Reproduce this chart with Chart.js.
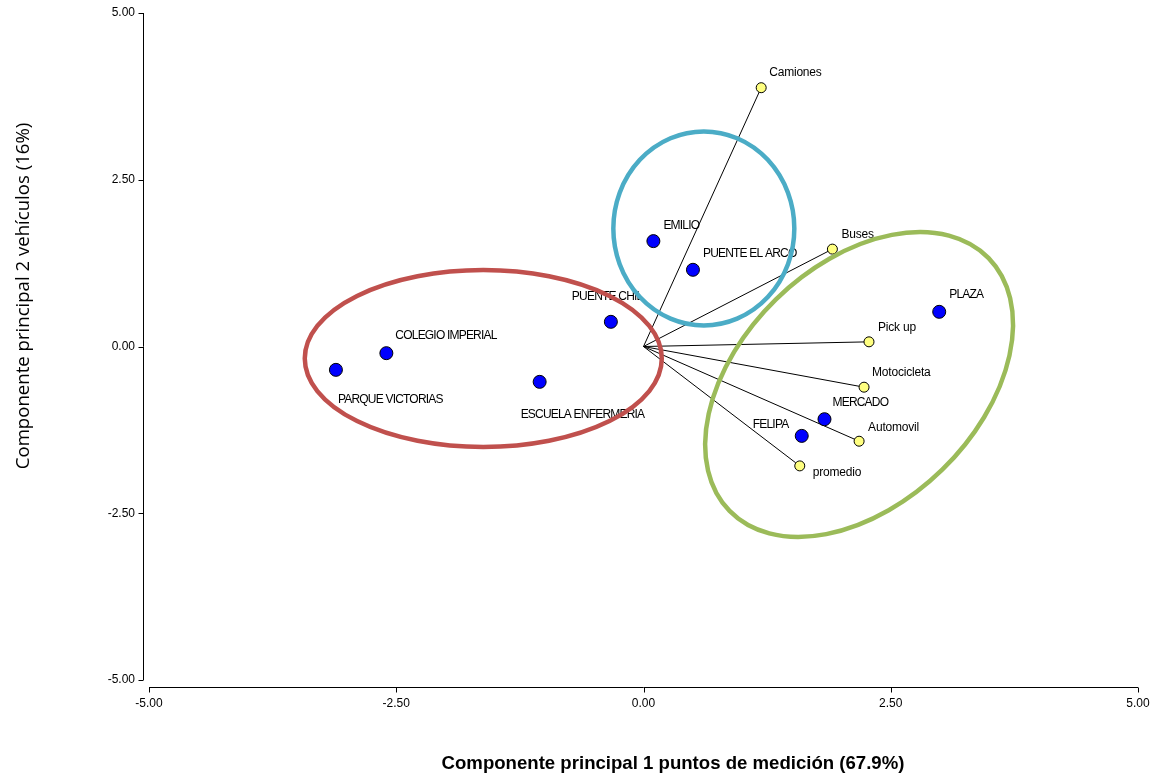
<!DOCTYPE html>
<html><head><meta charset="utf-8">
<script src="https://cdn.jsdelivr.net/npm/chart.js@4/dist/chart.umd.min.js"></script>
<style>html,body{margin:0;padding:0;background:#fff}#wrap{width:1156px;height:774px;position:relative}canvas{display:block}</style>
</head><body><div id="wrap"><canvas id="c" width="1156" height="774" style="width:1156px;height:774px"></canvas></div>
<script>
// ---- data ----
const siteNames = ["EMILIO","PUENTE EL ARCO","PUENTE CHIL","COLEGIO IMPERIAL","PARQUE VICTORIAS","ESCUELA ENFERMERIA","PLAZA","MERCADO","FELIPA"];
const siteX = [0.10, 0.50, -0.33, -2.60, -3.11, -1.05, 2.99, 1.83, 1.60];
const siteY = [1.58, 1.15, 0.37, -0.10, -0.35, -0.53, 0.52, -1.09, -1.34];
const varNames = ["Camiones","Buses","Pick up","Motocicleta","Automovil","promedio"];
const varX = [1.19, 1.91, 2.28, 2.23, 2.18, 1.58];
const varY = [3.88, 1.46, 0.07, -0.61, -1.42, -1.79];
const axisMin = -5, axisMax = 5, axisStep = 2.5;
const xTitle = "Componente principal 1 puntos de medición (67.9%)";
const yTitle = "Componente principal 2 vehículos (16%)";

// ---- layout / style (not data) ----
const siteLabelOffsets = [[10,-15],[10,-16],[-39,-25],[9,-17],[2,30],[-19,33],[10,-17],[8,-17],[-49,-11]];
const varLabelOffsets = [[8,-15],[9,-14],[9,-14],[8,-14],[9,-14],[13,7]];
const groupEllipses = [
  {cx:-1.62, cy:-0.18, rx:1.805, ry:1.327, rot:0, color:'#c0504d'},
  {cx:0.61, cy:1.77, rx:0.915, ry:1.455, rot:0, color:'#4bacc6'},
  {cx:2.18, cy:-0.57, rx:1.83, ry:1.785, rot:-44.3, color:'#9bbb59'}
];

const sitePts = siteX.map((x,i)=>({x, y: siteY[i]}));
const varPts = varX.map((x,i)=>({x, y: varY[i]}));
const vectorSets = varX.map((x,i)=>({
  type:'line', data:[{x:0,y:0},{x, y:varY[i]}], borderColor:'#000', borderWidth:1,
  pointRadius:0, pointHoverRadius:0, fill:false, tension:0, showLine:true
}));

const labelsPlugin = {
  id:'labels',
  afterDatasetsDraw(chart){
    const ctx = chart.ctx, xs = chart.scales.x, ys = chart.scales.y;
    ctx.save();
    ctx.fillStyle = '#000';
    ctx.textBaseline = 'middle';
    ctx.textAlign = 'left';
    ctx.font = '12px "Liberation Sans", Arial, sans-serif';
    ctx.letterSpacing = '-0.8px';
    siteNames.forEach((n,i)=>{
      const px = xs.getPixelForValue(siteX[i]), py = ys.getPixelForValue(siteY[i]);
      ctx.fillText(n, px + siteLabelOffsets[i][0], py + siteLabelOffsets[i][1]);
    });
    ctx.letterSpacing = '-0.2px';
    varNames.forEach((n,i)=>{
      const px = xs.getPixelForValue(varX[i]), py = ys.getPixelForValue(varY[i]);
      ctx.fillText(n, px + varLabelOffsets[i][0], py + varLabelOffsets[i][1]);
    });
    ctx.letterSpacing = '0px';
    const kx = Math.abs(xs.getPixelForValue(1) - xs.getPixelForValue(0));
    const ky = Math.abs(ys.getPixelForValue(1) - ys.getPixelForValue(0));
    groupEllipses.forEach(e=>{
      ctx.beginPath();
      ctx.ellipse(xs.getPixelForValue(e.cx), ys.getPixelForValue(e.cy), e.rx*kx, e.ry*ky, e.rot*Math.PI/180, 0, Math.PI*2);
      ctx.strokeStyle = e.color;
      ctx.lineWidth = 4.5;
      ctx.stroke();
    });
    ctx.restore();
  }
};

const axesPlugin = {
  id:'axesLines',
  afterDraw(chart){
    const ctx = chart.ctx, xs = chart.scales.x, ys = chart.scales.y;
    const ax = Math.round(chart.chartArea.left - 6) + 0.5;
    const ay = Math.round(chart.chartArea.bottom + 7) + 0.5;
    ctx.save();
    ctx.strokeStyle = '#000';
    ctx.lineWidth = 1;
    ctx.beginPath();
    ctx.moveTo(ax, ys.getPixelForValue(axisMax));
    ctx.lineTo(ax, ys.getPixelForValue(axisMin));
    ys.ticks.forEach(t=>{
      const p = Math.round(ys.getPixelForValue(t.value)) + 0.5;
      ctx.moveTo(ax - 5, p); ctx.lineTo(ax, p);
    });
    ctx.moveTo(xs.getPixelForValue(axisMin), ay);
    ctx.lineTo(xs.getPixelForValue(axisMax), ay);
    xs.ticks.forEach(t=>{
      const p = Math.round(xs.getPixelForValue(t.value)) + 0.5;
      ctx.moveTo(p, ay); ctx.lineTo(p, ay + 5);
    });
    ctx.stroke();
    ctx.fillStyle = '#000';
    ctx.font = 'bold 18.6px "Liberation Sans", Arial, sans-serif';
    ctx.textAlign = 'center';
    ctx.textBaseline = 'alphabetic';
    ctx.fillText(xTitle, 673, 769);
    ctx.translate(29, 296);
    ctx.rotate(-Math.PI/2);
    ctx.font = '18.6px "Open Sans", sans-serif';
    ctx.fillText(yTitle, 0, 0);
    ctx.restore();
  }
};

const tickFont = {family:'"Liberation Sans", Arial, sans-serif', size:12};
new Chart(document.getElementById('c'), {
  type:'scatter',
  data:{datasets:[
    {data:sitePts, backgroundColor:'#0000ff', borderColor:'#000', borderWidth:1, pointRadius:6.5, pointHoverRadius:6.5},
    {data:varPts, backgroundColor:'#ffff80', borderColor:'#000', borderWidth:1, pointRadius:5, pointHoverRadius:5},
    ...vectorSets
  ]},
  options:{
    responsive:false, maintainAspectRatio:false, animation:false, devicePixelRatio:1,
    layout:{padding:{left:0, right:18, top:13, bottom:0}},
    plugins:{legend:{display:false}, tooltip:{enabled:false}},
    events:[],
    scales:{
      x:{type:'linear', min:axisMin, max:axisMax,
        grid:{display:false, drawTicks:false}, border:{display:false},
        ticks:{stepSize:axisStep, autoSkip:false, maxRotation:0, padding:16, color:'#000', font:tickFont, callback:v=>Number(v).toFixed(2)},
        afterFit(s){ s.height = 94; s.paddingLeft = 0; s.paddingRight = 0; }
      },
      y:{type:'linear', min:axisMin, max:axisMax,
        grid:{display:false, drawTicks:false}, border:{display:false},
        ticks:{stepSize:axisStep, autoSkip:false, padding:14, color:'#000', font:tickFont, callback:v=>Number(v).toFixed(2)},
        afterFit(s){ s.width = 149; s.paddingTop = 0; s.paddingBottom = 0; }
      }
    }
  },
  plugins:[labelsPlugin, axesPlugin]
});
</script>
</body></html>
